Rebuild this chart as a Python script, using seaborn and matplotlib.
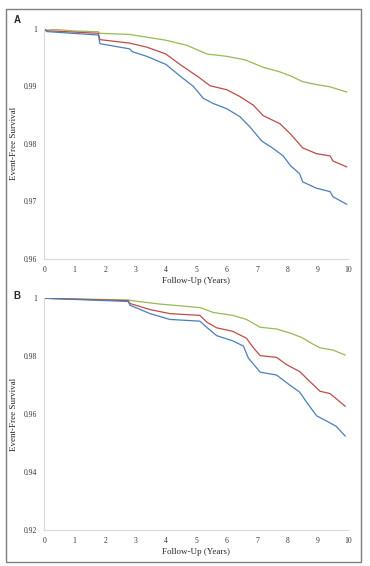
import pandas as pd
import matplotlib.pyplot as plt
import seaborn as sns
from matplotlib.patches import Rectangle

# Panel A: follow-up years and event-free survival per group
a_green_x = [0, 1.0, 1.78, 1.83, 2.8, 4.0, 4.7, 5.35, 6.0, 6.6, 7.2, 7.75, 8.1, 8.5, 8.95, 9.4, 9.95]
a_green_y = [1.0, 0.9996, 0.99947, 0.9992, 0.999, 0.998, 0.9971, 0.9956, 0.9952, 0.9946, 0.9933,
             0.9925, 0.9918, 0.9908, 0.9903, 0.9899, 0.989]

a_red_x = [0, 0.08, 1.78, 1.83, 2.8, 3.37, 4.0, 4.46, 5.1, 5.45, 6.0, 6.44, 6.88, 7.2, 7.75, 8.1,
           8.3, 8.4, 8.5, 8.95, 9.4, 9.5, 9.95]
a_red_y = [1.0, 0.99965, 0.9992, 0.9981, 0.9975, 0.9968, 0.9956, 0.9938, 0.9915, 0.9901, 0.9894,
           0.9882, 0.9867, 0.9849, 0.9835, 0.9817, 0.9805, 0.9799, 0.9793, 0.9783, 0.9779, 0.977, 0.976]

a_blue_x = [0, 0.08, 1.78, 1.83, 2.8, 2.9, 3.37, 4.0, 4.46, 4.9, 5.23, 5.56, 6.0, 6.44, 6.77, 7.15,
            7.5, 7.86, 8.1, 8.4, 8.5, 8.95, 9.4, 9.5, 9.95]
a_blue_y = [1.0, 0.9995, 0.9989, 0.9974, 0.9965, 0.996, 0.9952, 0.9938, 0.9918, 0.99, 0.9879, 0.987,
            0.9861, 0.9847, 0.9829, 0.9805, 0.9793, 0.9779, 0.9762, 0.9748, 0.9734, 0.9723, 0.9717,
            0.9708, 0.9695]

# Panel B
b_green_x = [0, 2.8, 2.85, 3.8, 4.57, 5.12, 5.56, 6.2, 6.65, 7.1, 7.64, 8.08, 8.46, 8.85, 9.07, 9.5, 9.9]
b_green_y = [1.0, 0.9994, 0.9992, 0.998, 0.9973, 0.9968, 0.9951, 0.9941, 0.9927, 0.990, 0.9894,
             0.988, 0.9865, 0.9841, 0.9829, 0.9821, 0.9804]

b_red_x = [0, 2.76, 2.82, 3.48, 4.13, 5.12, 5.34, 5.67, 6.2, 6.65, 6.88, 7.1, 7.64, 7.97, 8.4, 8.74,
           9.07, 9.4, 9.9]
b_red_y = [1.0, 0.9992, 0.9982, 0.9961, 0.9947, 0.9941, 0.9918, 0.9898, 0.9886, 0.9862, 0.9829,
           0.9802, 0.9796, 0.9771, 0.9747, 0.9712, 0.9679, 0.9671, 0.9627]

b_blue_x = [0, 2.76, 2.82, 3.48, 4.13, 5.12, 5.34, 5.67, 6.2, 6.55, 6.71, 7.1, 7.64, 8.08, 8.4, 8.63,
            8.96, 9.29, 9.6, 9.9]
b_blue_y = [1.0, 0.9989, 0.9976, 0.9947, 0.9927, 0.9921, 0.99, 0.9871, 0.9853, 0.9835, 0.9794,
            0.9745, 0.9735, 0.970, 0.9676, 0.9641, 0.9594, 0.9576, 0.9558, 0.9524]

x_ticks = list(range(0, 11))
a_y_ticks = [0.96, 0.97, 0.98, 0.99, 1.0]
a_y_labels = ["0.96", "0.97", "0.98", "0.99", "1"]
b_y_ticks = [0.92, 0.94, 0.96, 0.98, 1.0]
b_y_labels = ["0.92", "0.94", "0.96", "0.98", "1"]

colors = {"green": "#98b954", "red": "#be4b48", "blue": "#4a7ebb"}


def make_df(curves):
    frames = []
    for name, (xs, ys) in curves.items():
        frames.append(pd.DataFrame({"years": xs, "survival": ys, "group": name}))
    return pd.concat(frames, ignore_index=True)


df_a = make_df({"green": (a_green_x, a_green_y), "red": (a_red_x, a_red_y), "blue": (a_blue_x, a_blue_y)})
df_b = make_df({"green": (b_green_x, b_green_y), "red": (b_red_x, b_red_y), "blue": (b_blue_x, b_blue_y)})

sns.set_style("white")
plt.rcParams['font.family'] = ['Liberation Serif', 'DejaVu Serif']

fig = plt.figure(figsize=(3.7, 5.66), dpi=100)
ax_a = fig.add_axes([0.1197, 0.5424, 0.8217, 0.4069])
ax_b = fig.add_axes([0.1197, 0.0636, 0.8217, 0.4094])

panels = [(ax_a, df_a, (0.96, 1.0), a_y_ticks, a_y_labels, "A", 1.038),
          (ax_b, df_b, (0.92, 1.0), b_y_ticks, b_y_labels, "B", 1.01)]

for ax, df, ylim, yt, yl, letter, ly in panels:
    sns.lineplot(data=df, x="years", y="survival", hue="group", palette=colors,
                 hue_order=["green", "red", "blue"], linewidth=0.9, legend=False,
                 sort=False, ax=ax)
    ax.set_xlim(0, 10)
    ax.set_ylim(*ylim)
    ax.set_xticks(x_ticks)
    ax.set_xticklabels([str(t) for t in x_ticks], fontsize=5.5)
    ax.set_yticks(yt)
    ax.set_yticklabels(yl, fontsize=5.5)
    ax.tick_params(length=0, pad=5, colors="#333333")
    for side in ["top", "right"]:
        ax.spines[side].set_visible(False)
    for side in ["left", "bottom"]:
        ax.spines[side].set_color("#d9d9d9")
        ax.spines[side].set_linewidth(0.8)
    ax.set_xlabel("Follow-Up (Years)", fontsize=6.5, labelpad=2)
    ax.set_ylabel("Event-Free Survival", fontsize=6.5, labelpad=4)
    ax.text(-0.089, ly, letter, transform=ax.transAxes, fontsize=7, fontweight="bold",
            family="Liberation Sans", ha="center", va="center")

fig.patches.append(Rectangle((6 / 370, 1 - 562 / 566), 355 / 370, 553 / 566,
                             transform=fig.transFigure, fill=False,
                             edgecolor="#7f7f7f", linewidth=1))

fig.savefig("out.png", dpi=100)
